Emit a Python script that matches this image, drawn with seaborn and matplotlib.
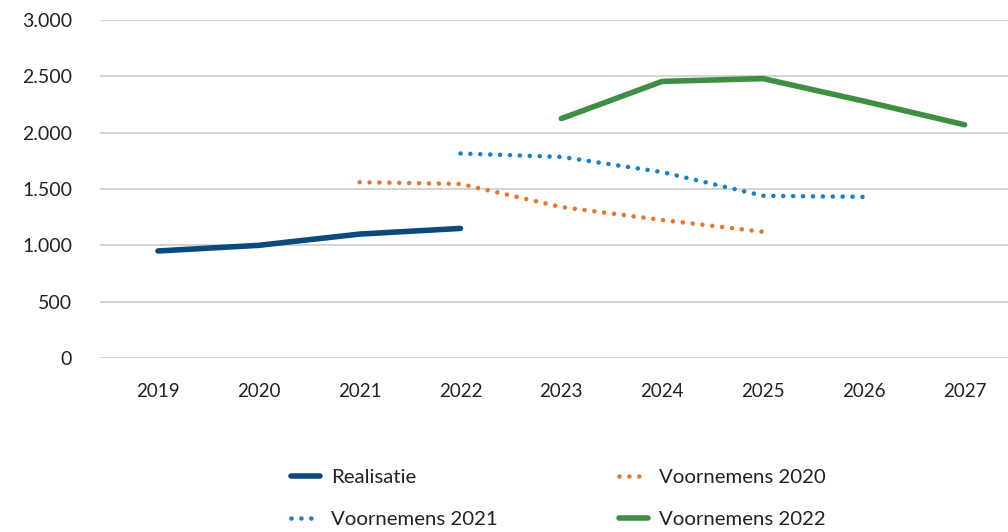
import matplotlib
matplotlib.use("Agg")
import matplotlib.pyplot as plt
import seaborn as sns
import pandas as pd
from matplotlib.ticker import FuncFormatter

# Categories and values
YEARS = ["2019", "2020", "2021", "2022", "2023", "2024", "2025", "2026", "2027"]

REALISATIE_YEARS = ["2019", "2020", "2021", "2022"]
REALISATIE = [950, 1000, 1100, 1150]

V2020_YEARS = ["2021", "2022", "2023", "2024", "2025"]
V2020 = [1560, 1545, 1340, 1225, 1120]

V2021_YEARS = ["2022", "2023", "2024", "2025", "2026"]
V2021 = [1815, 1785, 1650, 1440, 1430]

V2022_YEARS = ["2023", "2024", "2025", "2026", "2027"]
V2022 = [2125, 2455, 2480, 2280, 2070]

Y_TICKS = [0, 500, 1000, 1500, 2000, 2500, 3000]

SERIES = [
    ("Realisatie", REALISATIE_YEARS, REALISATIE, "#0b4a7e", "solid"),
    ("Voornemens 2020", V2020_YEARS, V2020, "#e8772a", "dotted"),
    ("Voornemens 2021", V2021_YEARS, V2021, "#1b7fc6", "dotted"),
    ("Voornemens 2022", V2022_YEARS, V2022, "#3e8f41", "solid"),
]


def build_frame():
    rows = []
    for name, years, vals, _, _ in SERIES:
        for y, v in zip(years, vals):
            rows.append({"serie": name, "x": YEARS.index(y), "waarde": v})
    return pd.DataFrame(rows)


def main():
    sns.set_style("white")
    plt.rcParams["font.family"] = ["Lato", "DejaVu Sans"]

    df = build_frame()

    fig = plt.figure(figsize=(10.08, 5.32), dpi=100)
    ax = fig.add_axes([100 / 1008, 1 - 358 / 532, 908 / 1008, 338 / 532])

    handles = {}
    for name, _, _, color, style in SERIES:
        sub = df[df["serie"] == name]
        sns.lineplot(data=sub, x="x", y="waarde", ax=ax, color=color,
                     legend=False, sort=False)
        line = ax.get_lines()[-1]
        line.set_solid_capstyle("round")
        line.set_solid_joinstyle("round")
        if style == "dotted":
            line.set_linewidth(3.3)
            line.set_dashes((0.01, 2.15))
            line.set_dash_capstyle("round")
        else:
            line.set_linewidth(4.0)
        line.set_label(name)
        handles[name] = line

    ax.set_ylim(0, 3000)
    ax.set_xlim(-0.575, 8.43)
    ax.set_yticks(Y_TICKS)
    ax.yaxis.set_major_formatter(FuncFormatter(lambda v, p: f"{int(v):,}".replace(",", ".")))
    ax.set_xticks(range(len(YEARS)))
    ax.set_xticklabels(YEARS)
    ax.grid(axis="y", color="#d0d0d0", linewidth=1.3)
    ax.grid(axis="x", visible=False)
    for s in ax.spines.values():
        s.set_visible(False)
    ax.set_xlabel("")
    ax.set_ylabel("")
    ax.tick_params(axis="y", length=0, pad=20, labelsize=14, labelcolor="#222222")
    ax.tick_params(axis="x", length=0, pad=18, labelsize=13.5, labelcolor="#222222")
    ax.set_axisbelow(True)

    order = ["Realisatie", "Voornemens 2021", "Voornemens 2020", "Voornemens 2022"]
    fig.legend([handles[n] for n in order], order, ncol=2, loc="upper left",
               bbox_to_anchor=(291 / 1008, 1 - 469 / 532), frameon=False,
               borderpad=0, borderaxespad=0,
               fontsize=14.7, handlelength=1.4, handletextpad=0.55,
               columnspacing=5.95, labelspacing=1.2, labelcolor="#222222")

    fig.savefig("out.png", dpi=100)
    plt.close(fig)


if __name__ == "__main__":
    main()
